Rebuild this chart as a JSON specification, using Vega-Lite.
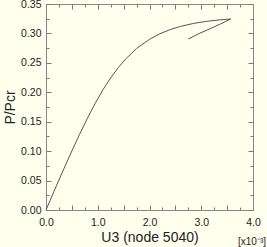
{
  "$schema": "https://vega.github.io/schema/vega-lite/v6.json",
  "width": 207,
  "height": 206,
  "autosize": "none",
  "padding": {"left": 46, "top": 4, "right": 14, "bottom": 37},
  "background": "#FFFFEE",
  "config": {
    "view": {"stroke": "#888888", "strokeWidth": 1},
    "font": "Liberation Sans",
    "axis": {"grid": false, "domainColor": "#888888", "tickColor": "#777777", "labelColor": "#222222", "labelFontSize": 10.5, "titleFontSize": 14, "titleFontWeight": "normal", "titleColor": "#222222", "labelOverlap": false, "labelFlush": false}
  },
  "data": {"values": [
    {"i": 0, "u": 0, "p": 0},
    {"i": 1, "u": 0.2, "p": 0.041},
    {"i": 2, "u": 0.35, "p": 0.071},
    {"i": 3, "u": 0.5, "p": 0.1003},
    {"i": 4, "u": 0.65, "p": 0.1288},
    {"i": 5, "u": 0.8, "p": 0.1558},
    {"i": 6, "u": 0.95, "p": 0.181},
    {"i": 7, "u": 1.1, "p": 0.2043},
    {"i": 8, "u": 1.25, "p": 0.2245},
    {"i": 9, "u": 1.4, "p": 0.2422},
    {"i": 10, "u": 1.55, "p": 0.2575},
    {"i": 11, "u": 1.75, "p": 0.2745},
    {"i": 12, "u": 2.0, "p": 0.29},
    {"i": 13, "u": 2.2, "p": 0.2995},
    {"i": 14, "u": 2.4, "p": 0.3065},
    {"i": 15, "u": 2.6, "p": 0.312},
    {"i": 16, "u": 2.85, "p": 0.317},
    {"i": 17, "u": 3.1, "p": 0.3205},
    {"i": 18, "u": 3.35, "p": 0.323},
    {"i": 19, "u": 3.57, "p": 0.3245},
    {"i": 20, "u": 3.37, "p": 0.316},
    {"i": 21, "u": 3.17, "p": 0.308},
    {"i": 22, "u": 2.95, "p": 0.2995},
    {"i": 23, "u": 2.75, "p": 0.2905}
  ]},
  "resolve": {"axis": {"x": "independent", "y": "independent"}},
  "layer": [
    {
      "mark": {"type": "line", "color": "#555555", "strokeWidth": 1},
      "encoding": {
        "x": {"field": "u", "type": "quantitative", "scale": {"domain": [0, 4], "nice": false},
          "axis": {"orient": "bottom", "title": "U3 (node 5040)", "values": [0,0.25,0.5,0.75,1,1.25,1.5,1.75,2,2.25,2.5,2.75,3,3.25,3.5,3.75,4],
            "labelExpr": "datum.value % 1 === 0 ? format(datum.value, '.1f') : ''",
            "tickSize": {"condition": {"test": "datum.value % 0.5 === 0", "value": -5}, "value": -3},
            "labelPadding": 12, "titlePadding": 1}},
        "y": {"field": "p", "type": "quantitative", "scale": {"domain": [0, 0.35], "nice": false},
          "axis": {"orient": "left", "title": "P/Pcr", "values": [0,0.025,0.05,0.075,0.1,0.125,0.15,0.175,0.2,0.225,0.25,0.275,0.3,0.325,0.35],
            "labelExpr": "round(datum.value*1000) % 50 === 0 ? format(datum.value, '.2f') : ''",
            "tickSize": {"condition": {"test": "round(datum.value*1000) % 50 === 0", "value": -5}, "value": -3},
            "labelPadding": 10, "titlePadding": 3}},
        "order": {"field": "i", "type": "quantitative"}
      }
    },
    {
      "mark": {"type": "line", "opacity": 0},
      "encoding": {
        "x": {"field": "u", "type": "quantitative",
          "axis": {"orient": "top", "title": null, "labels": false, "values": [0,0.25,0.5,0.75,1,1.25,1.5,1.75,2,2.25,2.5,2.75,3,3.25,3.5,3.75,4],
            "tickSize": {"condition": {"test": "datum.value % 0.5 === 0", "value": -5}, "value": -3}}},
        "y": {"field": "p", "type": "quantitative",
          "axis": {"orient": "right", "title": null, "labels": false, "values": [0,0.025,0.05,0.075,0.1,0.125,0.15,0.175,0.2,0.225,0.25,0.275,0.3,0.325,0.35],
            "tickSize": {"condition": {"test": "round(datum.value*1000) % 50 === 0", "value": -5}, "value": -3}}},
        "order": {"field": "i", "type": "quantitative"}
      }
    },
    {
      "data": {"values": [{"t": "[x10⁻³]"}]},
      "mark": {"type": "text", "fontSize": 10, "color": "#222222", "dy": 32, "dx": -1, "align": "center"},
      "encoding": {
        "x": {"datum": 4, "type": "quantitative", "axis": null},
        "y": {"datum": 0, "type": "quantitative", "axis": null},
        "text": {"field": "t"}
      }
    }
  ]
}
